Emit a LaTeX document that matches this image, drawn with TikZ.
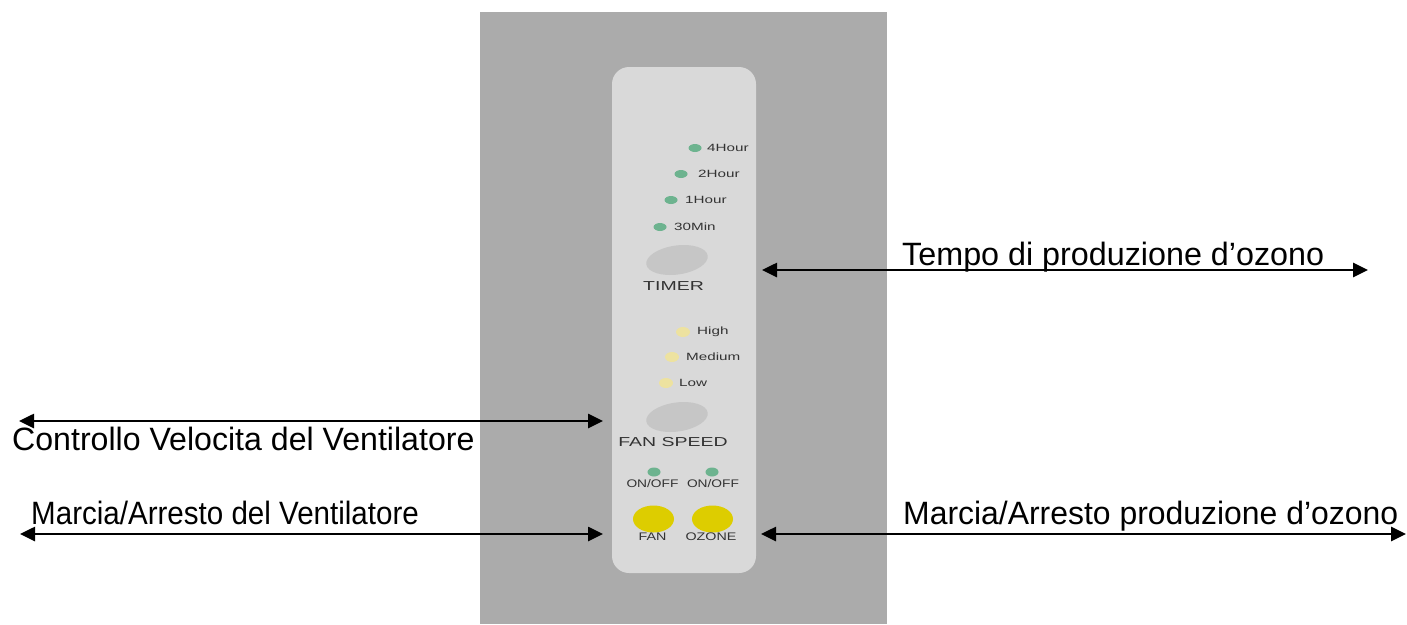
\documentclass[tikz,border=0pt]{standalone}
\usepackage{fontspec}
\setmainfont{Liberation Sans}
\usetikzlibrary{arrows.meta}
\usetikzlibrary{shapes.geometric}
\definecolor{bggray}{HTML}{ABABAB}
\definecolor{panelgray}{HTML}{D9D9D9}
\definecolor{btngray}{HTML}{C6C6C6}
\definecolor{ledgreen}{HTML}{6DB38F}
\definecolor{ledyellow}{HTML}{EDE2A0}
\definecolor{btnyellow}{HTML}{DDCD00}
\definecolor{labelgray}{HTML}{333333}
\tikzset{
  dblarrow/.style={line width=2.6pt, {Triangle[length=15pt,width=14pt]}-{Triangle[length=15pt,width=14pt]}},
  bigtext/.style={inner sep=0pt, font=\fontsize{32.3}{36}\selectfont, text=black},
  small/.style={inner sep=0pt, font=\fontsize{10.5}{12}\selectfont, text=labelgray},
  mid/.style={inner sep=0pt, font=\fontsize{13}{15}\selectfont, text=labelgray},
  led/.style={ellipse, minimum width=13pt, minimum height=8pt, inner sep=0pt, fill=ledgreen, draw=none},
  yled/.style={ellipse, minimum width=14pt, minimum height=10pt, inner sep=0pt, fill=ledyellow, draw=none},
  graybtn/.style={ellipse, fill=btngray, minimum width=62pt, minimum height=29pt, inner sep=0pt, rotate=8},
  yelbtn/.style={ellipse, fill=btnyellow, minimum width=41pt, minimum height=27pt, inner sep=0pt},
}
\begin{document}
\begin{tikzpicture}[x=1pt,y=-1pt]
\useasboundingbox (0,0) rectangle (1407,624);
\fill[white] (0,0) rectangle (1407,624);
% housing
\fill[bggray] (480,12) rectangle (887,624);
% panel
\fill[panelgray, rounded corners=17pt] (612,67) rectangle (756,573);
% timer LEDs
\node[led] (l4) at (695,148) {};
\node[small, anchor=west] (t4) at (707,148) {\scalebox{1.45}[1]{4Hour}};
\node[led] (l2) at (681,174) {};
\node[small, anchor=west] (t2) at (698,174) {\scalebox{1.45}[1]{2Hour}};
\node[led] (l1) at (671,200) {};
\node[small, anchor=west] (t1) at (685,200) {\scalebox{1.45}[1]{1Hour}};
\node[led] (l30) at (660,227) {};
\node[small, anchor=west] (t30) at (674,227) {\scalebox{1.45}[1]{30Min}};
% timer button
\node[graybtn] (timerbtn) at (677,260) {};
\node[mid] (timer) at (673.5,286.5) {\scalebox{1.5}[1]{TIMER}};
% fan speed LEDs
\node[yled] (lh) at (683,332) {};
\node[small, anchor=west] (th) at (697,332) {\scalebox{1.45}[1]{High}};
\node[yled] (lm) at (672,357) {};
\node[small, anchor=west] (tm) at (686,357) {\scalebox{1.45}[1]{Medium}};
\node[yled] (ll) at (666,383) {};
\node[small, anchor=west] (tl) at (679,383) {\scalebox{1.45}[1]{Low}};
% fan speed button
\node[graybtn] (fanbtn) at (677,417) {};
\node[mid] (fanspeed) at (673,442) {\scalebox{1.5}[1]{FAN SPEED}};
% on/off
\node[led, minimum width=13pt, minimum height=9pt] (lon1) at (654,472) {};
\node[led, minimum width=13pt, minimum height=9pt] (lon2) at (712,472) {};
\node[small, font=\fontsize{11}{13}\selectfont] (on1) at (652.5,484) {\scalebox{1.25}[1]{ON/OFF}};
\node[small, font=\fontsize{11}{13}\selectfont] (on2) at (713,484) {\scalebox{1.25}[1]{ON/OFF}};
\node[yelbtn] (fanb) at (653.5,519) {};
\node[yelbtn] (ozb) at (712.5,519) {};
\node[small, font=\fontsize{11}{13}\selectfont] (fanl) at (652.5,537) {\scalebox{1.3}[1]{FAN}};
\node[small, font=\fontsize{11}{13}\selectfont] (ozl) at (711,537) {\scalebox{1.3}[1]{OZONE}};
% arrows
\coordinate (tA) at (762,270);
\coordinate (tB) at (1368,270);
\draw[dblarrow] (tA) -- (tB);
\coordinate (cA) at (19,421);
\coordinate (cB) at (603,421);
\draw[dblarrow] (cA) -- (cB);
\coordinate (mA) at (20,534);
\coordinate (mB) at (603,534);
\draw[dblarrow] (mA) -- (mB);
\coordinate (oA) at (761,534);
\coordinate (oB) at (1406,534);
\draw[dblarrow] (oA) -- (oB);
% labels
\node[bigtext, anchor=base west] (tempo) at (902,265) {Tempo di produzione d’ozono};
\node[bigtext, anchor=base west] (ctrl) at (12,450) {\scalebox{0.994}[1]{Controllo Velocita del Ventilatore}};
\node[bigtext, anchor=base west] (mfan) at (31,524) {\scalebox{0.915}[1]{Marcia/Arresto del Ventilatore}};
\node[bigtext, anchor=base west] (moz) at (903,524) {\scalebox{0.988}[1]{Marcia/Arresto produzione d’ozono}};
\end{tikzpicture}
\end{document}
